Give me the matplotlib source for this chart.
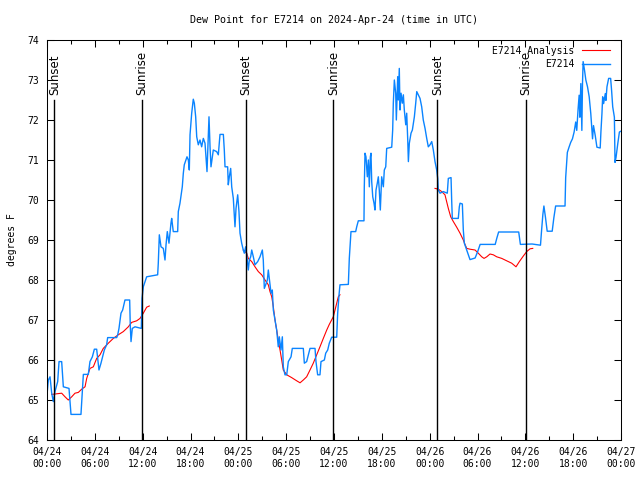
# Dew point chart for station E7214 (obs vs analysis)
import pandas as pd
import numpy as np
import matplotlib
matplotlib.use('Agg')
import matplotlib.pyplot as plt
import matplotlib.dates as mdates

plt.rcParams['font.family'] = ['DejaVu Sans Mono']
plt.rcParams['font.size'] = 7

start = pd.Timestamp('2024-04-24 00:00')

# observation series (hours since start, degrees F)
obs_hours = [0.0, 0.17, 0.38, 0.59, 0.79, 1.0, 1.34, 1.51, 1.84, 2.05, 2.76, 3.01, 4.26, 4.56, 5.18,
             5.39, 5.69, 5.94, 6.23, 6.52, 6.77, 7.19, 7.48, 7.61, 8.74, 8.87, 9.03, 9.28, 9.49, 9.78,
             10.37, 10.45, 10.54, 10.70, 11.04, 11.83, 11.92, 12.08, 12.5, 13.88, 13.96, 14.09, 14.30,
             14.59, 14.80, 14.93, 15.09, 15.30, 15.55, 15.64, 15.84, 16.39, 16.47, 16.68, 16.97, 17.10,
             17.22, 17.56, 17.73, 17.85, 17.94, 18.15, 18.35, 18.48, 18.65, 18.78, 18.98, 19.19, 19.40,
             19.61, 19.82, 19.94, 20.07, 20.24, 20.32, 20.45, 20.57, 20.74, 20.86, 21.28, 21.49, 21.70,
             22.12, 22.24, 22.33, 22.66, 22.74, 22.87, 23.04, 23.17, 23.37, 23.50, 23.58, 23.71, 23.92,
             24.08, 24.21, 24.42, 24.62, 24.75, 24.92, 25.05, 25.25, 25.38, 25.55, 25.68, 25.88, 26.09,
             26.43, 26.72, 27.01, 27.13, 27.26, 27.43, 27.64, 27.76, 27.97, 28.10, 28.26, 28.39, 28.60,
             28.81, 29.01, 29.14, 29.35, 29.52, 29.64, 29.85, 30.07, 30.27, 30.61, 30.77, 32.15, 32.28,
             32.57, 32.99, 33.62, 33.74, 33.95, 34.24, 34.37, 34.79, 34.96, 35.21, 35.41, 35.71, 36.34,
             36.46, 36.63, 36.75, 37.80, 37.92, 38.13, 38.72, 38.85, 39.05, 39.76, 39.80, 39.89, 40.01,
             40.18, 40.31, 40.43, 40.56, 40.64, 40.73, 40.86, 41.02, 41.14, 41.27, 41.43, 41.56, 41.68,
             41.81, 41.98, 42.19, 42.31, 42.49, 42.61, 43.24, 43.36, 43.44, 43.57, 43.74, 43.82, 43.99,
             44.07, 44.19, 44.28, 44.41, 44.57, 44.70, 44.82, 45.00, 45.12, 45.25, 45.33, 45.45, 45.66,
             45.83, 46.08, 46.25, 46.38, 46.58, 46.79, 47.00, 47.20, 47.42, 47.63, 47.83, 48.04, 48.26,
             48.46, 48.67, 48.88, 49.01, 49.08, 49.30, 49.71, 50.21, 50.34, 50.68, 50.76, 50.84, 51.59,
             51.72, 51.81, 52.10, 52.22, 52.35, 52.65, 52.85, 53.06, 53.70, 54.04, 54.33, 56.22, 56.43,
             56.65, 59.17, 59.38, 60.85, 61.90, 62.03, 62.20, 62.33, 62.53, 62.74, 63.37, 63.58, 63.80,
             64.98, 65.06, 65.27, 65.48, 65.69, 65.91, 66.12, 66.32, 66.45, 66.62, 66.75, 66.84, 66.96,
             67.09, 67.17, 67.25, 67.42, 67.59, 67.80, 68.01, 68.21, 68.43, 68.55, 68.77, 68.98, 69.39,
             69.48, 69.61, 69.70, 69.82, 70.03, 70.11, 70.24, 70.45, 70.70, 70.82, 70.96, 71.17, 71.25,
             71.38, 71.59, 71.80, 72.0]
obs_vals = [65.13, 65.50, 65.58, 65.17, 64.96, 65.21, 65.46, 65.96, 65.96, 65.33, 65.29, 64.64, 64.64,
            65.64, 65.64, 65.96, 66.08, 66.27, 66.27, 65.75, 65.92, 66.25, 66.38, 66.56, 66.56, 66.63,
            66.79, 67.17, 67.25, 67.50, 67.50, 66.83, 66.46, 66.79, 66.83, 66.79, 67.54, 67.83, 68.08,
            68.13, 68.42, 69.13, 68.83, 68.79, 68.50, 68.88, 69.21, 68.92, 69.42, 69.54, 69.21, 69.21,
            69.71, 69.92, 70.33, 70.67, 70.88, 71.08, 71.00, 70.75, 71.63, 72.17, 72.52, 72.42, 72.08,
            71.58, 71.38, 71.50, 71.33, 71.54, 71.42, 71.08, 70.71, 71.67, 72.08, 71.33, 70.83, 71.08,
            71.25, 71.21, 71.13, 71.64, 71.64, 71.25, 70.83, 70.83, 70.38, 70.58, 70.79, 70.33, 70.04,
            69.58, 69.33, 69.79, 70.13, 69.71, 69.17, 68.92, 68.75, 68.67, 68.83, 68.63, 68.25, 68.50,
            68.58, 68.75, 68.58, 68.38, 68.46, 68.58, 68.75, 68.50, 67.79, 67.88, 68.00, 68.25, 67.88,
            67.67, 67.75, 67.25, 67.00, 66.75, 66.33, 66.58, 66.25, 66.58, 65.83, 65.63, 65.63, 65.96,
            66.08, 66.29, 66.29, 65.92, 65.96, 66.29, 66.29, 65.96, 65.63, 65.63, 65.96, 66.00, 66.17,
            66.25, 66.42, 66.57, 66.57, 67.17, 67.63, 67.88, 67.89, 68.54, 69.21, 69.21, 69.33, 69.48,
            69.48, 70.33, 71.17, 71.08, 70.58, 71.00, 70.33, 71.08, 71.17, 70.46, 70.08, 69.92, 69.75,
            70.25, 70.42, 70.58, 70.25, 69.75, 70.58, 70.33, 70.75, 70.83, 71.29, 71.32, 71.75, 72.42,
            73.00, 72.67, 72.00, 73.08, 72.50, 73.29, 72.25, 72.67, 72.42, 72.63, 72.25, 71.88, 72.17,
            71.50, 70.96, 71.42, 71.67, 71.75, 72.08, 72.42, 72.71, 72.63, 72.54, 72.33, 72.00, 71.79,
            71.54, 71.33, 71.38, 71.46, 71.25, 70.96, 70.75, 70.54, 70.25, 70.17, 70.21, 70.17, 70.54,
            70.56, 70.00, 69.54, 69.54, 69.83, 69.92, 69.90, 69.25, 68.92, 68.75, 68.63, 68.51, 68.55,
            68.72, 68.89, 68.89, 69.05, 69.20, 69.20, 68.89, 68.90, 68.87, 69.22, 69.64, 69.85, 69.56,
            69.22, 69.22, 69.56, 69.85, 69.85, 70.56, 71.19, 71.32, 71.44, 71.53, 71.70, 71.95, 71.74,
            72.28, 72.62, 72.07, 72.91, 71.74, 72.91, 73.46, 73.25, 73.00, 72.83, 72.58, 72.16, 71.53,
            71.86, 71.61, 71.32, 71.30, 71.70, 72.16, 72.58, 72.41, 72.66, 72.49, 72.83, 73.04, 73.04,
            72.74, 72.33, 72.07, 70.94, 71.07, 71.40, 71.70, 71.72]

# analysis series, three overnight runs
ana1_hours = [0.59, 1.84, 2.26, 2.67, 3.10, 3.51, 3.93, 4.35, 4.77, 4.98, 5.39, 5.81, 6.23, 6.65, 7.06,
              7.69, 8.32, 8.94, 9.57, 10.20, 10.62, 11.25, 11.67, 12.08, 12.50, 12.83]
ana1_vals = [65.14, 65.17, 65.08, 65.00, 65.08, 65.17, 65.19, 65.27, 65.33, 65.54, 65.79, 65.83, 66.04,
             66.13, 66.29, 66.42, 66.54, 66.63, 66.71, 66.83, 66.94, 66.98, 67.04, 67.17, 67.32, 67.35]
ana2_hours = [24.62, 25.05, 25.25, 25.68, 26.09, 26.51, 26.93, 27.35, 27.76, 27.97, 28.19, 28.39, 28.60,
              28.81, 29.01, 29.23, 29.44, 29.64, 30.07, 30.69, 31.32, 31.74, 32.15, 32.57, 32.99, 33.40,
              33.83, 34.24, 34.66, 35.09, 35.41, 35.91, 36.13, 36.34, 36.54, 36.75]
ana2_vals = [68.75, 68.67, 68.54, 68.46, 68.33, 68.21, 68.13, 68.00, 67.88, 67.71, 67.58, 67.33, 67.00,
             66.75, 66.50, 66.25, 66.00, 65.75, 65.63, 65.56, 65.48, 65.43, 65.50, 65.58, 65.75, 65.92,
             66.13, 66.33, 66.54, 66.75, 66.89, 67.08, 67.25, 67.42, 67.58, 67.63]
ana3_hours = [48.67, 49.09, 49.51, 49.92, 50.13, 50.34, 50.64, 50.97, 51.39, 51.81, 52.22, 52.43, 52.65,
              53.06, 53.69, 54.10, 54.53, 54.82, 55.16, 55.57, 55.98, 56.41, 57.04, 57.66, 58.29, 58.83,
              59.25, 59.75, 60.17, 60.59, 60.93]
ana3_vals = [70.29, 70.27, 70.21, 70.13, 69.96, 69.79, 69.58, 69.46, 69.32, 69.17, 69.00, 68.89, 68.79,
             68.77, 68.75, 68.67, 68.58, 68.54, 68.58, 68.65, 68.63, 68.58, 68.54, 68.48, 68.42, 68.33,
             68.46, 68.60, 68.71, 68.78, 68.79]

# sunrise / sunset times (hours since start)
sun_hours = [0.92, 11.88, 24.99, 35.91, 48.96, 60.05]
sun_labels = ['Sunset', 'Sunrise', 'Sunset', 'Sunrise', 'Sunset', 'Sunrise']


def to_time(hours):
    return start + pd.to_timedelta(np.array(hours), unit='h')


fig = plt.figure(figsize=(6.4, 4.8), dpi=100)
ax = fig.add_axes([47 / 640, 40 / 480, 574 / 640, 400 / 480])

blue = '#0a84ff'
ax.plot(to_time(ana1_hours), ana1_vals, color='#ff0000', lw=0.8, label='E7214 Analysis')
ax.plot(to_time(ana2_hours), ana2_vals, color='#ff0000', lw=0.8)
ax.plot(to_time(ana3_hours), ana3_vals, color='#ff0000', lw=0.8)
ax.plot(to_time(obs_hours), obs_vals, color=blue, lw=1.0, label='E7214')

for h, lab in zip(sun_hours, sun_labels):
    t = start + pd.Timedelta(hours=h)
    ax.plot([t, t], [64, 72.5], color='black', lw=1.0)
    ax.text(t, 72.62, lab, rotation=90, ha='center', va='bottom',
            family='DejaVu Sans', fontsize=8.5)

ax.set_xlim(start, start + pd.Timedelta(hours=72))
ax.set_ylim(64, 74)
ax.set_yticks(range(64, 75))
ax.xaxis.set_major_locator(mdates.HourLocator(byhour=range(0, 24, 6)))
ax.xaxis.set_minor_locator(mdates.HourLocator(byhour=range(0, 24, 3)))
ax.xaxis.set_major_formatter(mdates.DateFormatter('%m/%d\n%H:%M'))
ax.tick_params(which='both', direction='in', top=True, right=True, width=0.75)
ax.tick_params(which='major', length=5)
ax.tick_params(which='minor', length=3)
ax.tick_params(axis='y', pad=6)
ax.tick_params(axis='x', pad=5)
for s in ax.spines.values():
    s.set_linewidth(0.75)

ax.set_title('Dew Point for E7214 on 2024-Apr-24 (time in UTC)', pad=12, fontsize=7.2)
fig.text(12 / 640, 0.5, 'degrees F', rotation=90, ha='center', va='center')

ax.legend(loc='upper right', frameon=False, markerfirst=False, handlelength=2.9,
          handletextpad=0.8, labelspacing=0.35, borderaxespad=0.2,
          bbox_to_anchor=(1 - 5 / 574, 1))

fig.savefig('out.png', dpi=100)
